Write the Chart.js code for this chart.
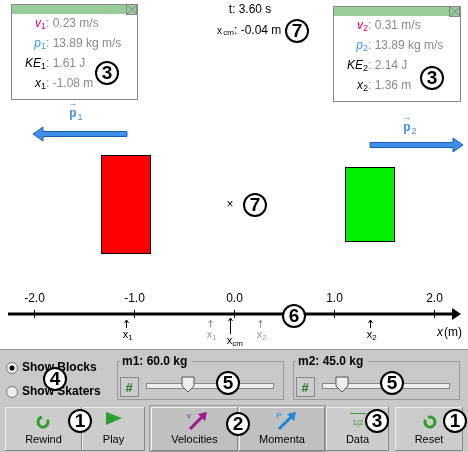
<!DOCTYPE html>
<html><head><meta charset="utf-8">
<script src="https://cdn.jsdelivr.net/npm/chart.js@4"></script>
<style>html,body{margin:0;padding:0;background:#fff}canvas{display:block}</style>
</head><body>
<canvas id="c" width="468" height="452"></canvas>
<script>
const tickLabels = ['-2.0','-1.0','0.0','1.0','2.0'];
const tickValues = [-2, -1, 0, 1, 2];
const blockPositions = [-1.08, 1.36];
const blockHalfWidths = [0.25, 0.25];
const blockTops = [155, 167];
const blockBottoms = [254, 242];
const blockColors = ['#ff0000', '#00ee00'];
const momentumArrowFrom = [-1.07, 1.36];
const momentumArrowTo = [-2.01, 2.29];
const ghostPositions = [-0.24, 0.26];
const xcm = -0.04;

const F = '"Liberation Sans", Arial, sans-serif';
function circ(ctx, x, y, t){
  ctx.save();ctx.beginPath();ctx.arc(x,y,11,0,Math.PI*2);ctx.fillStyle='#fff';ctx.fill();
  ctx.lineWidth=2;ctx.strokeStyle='#000';ctx.stroke();
  ctx.fillStyle='#000';ctx.font='bold 19px '+F;ctx.textAlign='center';ctx.textBaseline='middle';
  ctx.fillText(t,x,y+1);ctx.restore();
}
function arrowH(ctx,x1,x2,y,w,col){
  const d=Math.sign(x2-x1);ctx.fillStyle=col;ctx.strokeStyle='#1a5fb0';ctx.lineWidth=1;
  ctx.beginPath();ctx.moveTo(x1,y-w/2);ctx.lineTo(x2-d*10,y-w/2);ctx.lineTo(x2-d*10,y-7);ctx.lineTo(x2,y);
  ctx.lineTo(x2-d*10,y+7);ctx.lineTo(x2-d*10,y+w/2);ctx.lineTo(x1,y+w/2);ctx.closePath();ctx.fill();ctx.stroke();
}
function dataBox(ctx,x,y,w,h,rows){
  ctx.fillStyle='#fff';ctx.fillRect(x,y,w,h);ctx.fillStyle='#99cc99';ctx.fillRect(x,y,w,10);
  ctx.strokeStyle='#888';ctx.lineWidth=1;ctx.strokeRect(x+.5,y+.5,w,h);
  ctx.strokeRect(x+w-10.5,y+.5,10,10);
  ctx.beginPath();ctx.moveTo(x+w-10,y+1);ctx.lineTo(x+w,y+10);ctx.moveTo(x+w,y+1);ctx.lineTo(x+w-10,y+10);ctx.stroke();
  ctx.font='italic 12px '+F;ctx.textBaseline='middle';
  rows.forEach((r,i)=>{const yy=y+20+i*20;
    ctx.textAlign='right';ctx.fillStyle=r[1];ctx.fillText(r[0],x+30,yy);
    ctx.font='9px '+F;ctx.textAlign='left';ctx.fillText(r[2],x+30,yy+3);
    ctx.font='12px '+F;ctx.fillStyle='#888';ctx.fillText(': '+r[3],x+35,yy);ctx.font='italic 12px '+F;});
}
function button(ctx,x,y,w,h,label,pressed){
  ctx.fillStyle=pressed?'#c0c0c0':'#cccccc';ctx.fillRect(x,y,w,h);
  ctx.strokeStyle='#eee';ctx.beginPath();ctx.moveTo(x+.5,y+h);ctx.lineTo(x+.5,y+.5);ctx.lineTo(x+w,y+.5);ctx.stroke();
  ctx.strokeStyle='#888';ctx.beginPath();ctx.moveTo(x+w-.5,y);ctx.lineTo(x+w-.5,y+h-.5);ctx.lineTo(x,y+h-.5);ctx.stroke();
  ctx.fillStyle='#000';ctx.font='11px '+F;ctx.textAlign='center';ctx.textBaseline='middle';ctx.fillText(label,x+w/2,y+h-11);
}
const sim = {id:'sim', afterDraw(chart){
  const ctx=chart.ctx, X=v=>chart.scales.x.getPixelForValue(v);
  ctx.save();
  dataBox(ctx,11,4,126,95,[['v','#e0007a','1','0.23 m/s'],['p','#3399ff','1','13.89 kg m/s'],['KE','#000','1','1.61 J'],['x','#000','1','-1.08 m']]);
  dataBox(ctx,333,6,127,95,[['v','#e0007a','2','0.31 m/s'],['p','#3399ff','2','13.89 kg m/s'],['KE','#000','2','2.14 J'],['x','#000','2','1.36 m']]);
  circ(ctx,107,73,'3');circ(ctx,432,78,'3');
  ctx.fillStyle='#000';ctx.textAlign='center';ctx.textBaseline='middle';ctx.font='12px '+F;
  ctx.fillText('t: 3.60 s',250,10);
  ctx.textAlign='right';ctx.font='10px '+F;ctx.fillText('x',222,31);ctx.font='8px '+F;ctx.fillText('cm',234,33);
  ctx.font='12px '+F;ctx.textAlign='left';ctx.fillText(': -0.04 m',234,31);
  circ(ctx,297,31,'7');
  // momentum arrows
  for(let i=0;i<2;i++){arrowH(ctx,X(momentumArrowFrom[i]),X(momentumArrowTo[i]),[134,145][i],5,'#3d8fe8');}
  ctx.fillStyle='#3d8fe8';ctx.font='bold 12px '+F;ctx.textAlign='center';
  ctx.fillText('p',73,114);ctx.font='9px '+F;ctx.fillText('1',80,118);ctx.fillText('→',73,104);
  ctx.font='bold 12px '+F;ctx.fillText('p',407,128);ctx.font='9px '+F;ctx.fillText('2',414,132);ctx.fillText('→',407,118);
  // blocks
  for(let i=0;i<2;i++){const l=X(blockPositions[i]-blockHalfWidths[i]),r=X(blockPositions[i]+blockHalfWidths[i]);
    ctx.fillStyle=blockColors[i];ctx.fillRect(l,blockTops[i],r-l,blockBottoms[i]-blockTops[i]);
    ctx.strokeStyle='#000';ctx.lineWidth=1;ctx.strokeRect(l+.5,blockTops[i]+.5,r-l-1,blockBottoms[i]-blockTops[i]-1);}
  ctx.fillStyle='#000';ctx.font='12px '+F;ctx.fillText('×',X(xcm),205);
  circ(ctx,255,205,'7');
  // axis
  ctx.strokeStyle='#000';ctx.lineWidth=3;ctx.beginPath();ctx.moveTo(8,314);ctx.lineTo(454,314);ctx.stroke();
  ctx.fillStyle='#000';ctx.beginPath();ctx.moveTo(461,314);ctx.lineTo(452,308);ctx.lineTo(452,320);ctx.closePath();ctx.fill();
  ctx.lineWidth=1;ctx.font='12px '+F;ctx.textAlign='center';
  tickValues.forEach((v,i)=>{const px=Math.round(X(v))+.5;ctx.beginPath();ctx.moveTo(px,310);ctx.lineTo(px,318);ctx.stroke();ctx.fillText(tickLabels[i],px,299);});
  circ(ctx,294,316,'6');
  function marker(v,lab,sub,col,top,len){const px=Math.round(X(v))+.5;ctx.strokeStyle=col;ctx.fillStyle=col;
    ctx.beginPath();ctx.moveTo(px,top+len);ctx.lineTo(px,top);ctx.moveTo(px-2,top+3);ctx.lineTo(px,top);ctx.lineTo(px+2,top+3);ctx.stroke();
    ctx.font='11px '+F;ctx.textAlign='center';ctx.fillText(lab,px-1,top+len+7);ctx.font='8px '+F;ctx.fillText(sub,px+(sub==='cm'?7:4),top+len+10);}
  marker(blockPositions[0],'x','1','#000',320,8);marker(blockPositions[1],'x','2','#000',320,8);
  marker(ghostPositions[0],'x','1','#999',320,8);marker(ghostPositions[1],'x','2','#999',320,8);
  marker(xcm,'x','cm','#000',318,16);
  ctx.fillStyle='#000';ctx.font='italic 12px '+F;ctx.textAlign='left';ctx.fillText('x',437,333);ctx.font='12px '+F;ctx.fillText('(m)',444,333);
  // panel
  ctx.fillStyle='#c8c8c8';ctx.fillRect(0,349,468,103);ctx.strokeStyle='#999';ctx.beginPath();ctx.moveTo(0,349.5);ctx.lineTo(468,349.5);ctx.stroke();
  [[12,368,true,'Show Blocks'],[12,392,false,'Show Skaters']].forEach(r=>{ctx.beginPath();ctx.arc(r[0],r[1],5.5,0,7);ctx.fillStyle='#eee';ctx.fill();ctx.strokeStyle='#777';ctx.stroke();
    if(r[2]){ctx.beginPath();ctx.arc(r[0],r[1],2.5,0,7);ctx.fillStyle='#000';ctx.fill();}
    ctx.fillStyle='#000';ctx.font='bold 12px '+F;ctx.textAlign='left';ctx.fillText(r[3],22,r[1]);});
  circ(ctx,55,379,'4');
  [[117,'m1: 60.0 kg',188,228],[293,'m2: 45.0 kg',342,392]].forEach(g=>{const x=g[0];
    ctx.strokeStyle='#999';ctx.strokeRect(x+.5,361.5,166,38);ctx.fillStyle='#c8c8c8';ctx.fillRect(x+3,355,72,12);
    ctx.fillStyle='#000';ctx.font='bold 12px '+F;ctx.textAlign='left';ctx.fillText(g[1],x+5,362);
    ctx.fillStyle='#ccc';ctx.fillRect(x+3,377,18,19);ctx.strokeStyle='#888';ctx.strokeRect(x+3.5,377.5,18,19);
    ctx.fillStyle='#2a7a2a';ctx.font='bold 13px '+F;ctx.textAlign='center';ctx.fillText('#',x+12,388);
    ctx.fillStyle='#eee';ctx.fillRect(x+29,383,127,5);ctx.strokeStyle='#888';ctx.strokeRect(x+29.5,383.5,127,5);
    const t=g[2];ctx.fillStyle='#eee';ctx.beginPath();ctx.moveTo(t-6,377);ctx.lineTo(t+6,377);ctx.lineTo(t+6,386);ctx.lineTo(t,392);ctx.lineTo(t-6,386);ctx.closePath();ctx.fill();ctx.strokeStyle='#555';ctx.stroke();
    circ(ctx,g[3],383,'5');});
  button(ctx,5,407,77,44,'Rewind');button(ctx,82,407,63,44,'Play');
  ctx.strokeStyle='#999';ctx.strokeRect(149.5,405.5,176,46);
  button(ctx,151,407,87,44,'Velocities',true);button(ctx,239,407,86,44,'Momenta',true);
  button(ctx,326,407,63,44,'Data');button(ctx,395,407,68,44,'Reset');
  ctx.fillStyle='#2e9e2e';ctx.beginPath();ctx.moveTo(106,408+4);ctx.lineTo(122,408+10);ctx.lineTo(106,408+17);ctx.closePath();ctx.fill();
  ctx.lineWidth=3;ctx.strokeStyle='#2e9e2e';ctx.beginPath();ctx.arc(43,422,5,-0.5,4.5);ctx.stroke();ctx.beginPath();ctx.arc(430,422,5,-2,3.6);ctx.stroke();
  ctx.strokeStyle='#a0188f';ctx.beginPath();ctx.moveTo(190,429);ctx.lineTo(203,416);ctx.stroke();ctx.fillStyle='#a0188f';ctx.beginPath();ctx.moveTo(207,412);ctx.lineTo(198,414);ctx.lineTo(205,421);ctx.fill();
  ctx.strokeStyle='#1e88d8';ctx.beginPath();ctx.moveTo(279,429);ctx.lineTo(292,416);ctx.stroke();ctx.fillStyle='#1e88d8';ctx.beginPath();ctx.moveTo(296,412);ctx.lineTo(287,414);ctx.lineTo(294,421);ctx.fill();
  ctx.font='8px '+F;ctx.fillStyle='#a0188f';ctx.fillText('v',189,416);ctx.fillStyle='#1e88d8';ctx.fillText('P',279,416);
  ctx.fillStyle='#2e9e2e';ctx.fillText('1|2',358,423);ctx.fillRect(350,413,16,1);
  ctx.lineWidth=1;
  circ(ctx,80,421,'1');circ(ctx,238,424,'2');circ(ctx,377,421,'3');circ(ctx,455,421,'1');
  ctx.restore();
}};
new Chart(document.getElementById('c'),{type:'scatter',
  data:{datasets:[{data:blockPositions.map(v=>({x:v,y:-10})),pointRadius:0}]},
  options:{responsive:false,devicePixelRatio:1,animation:false,layout:{padding:0},
    plugins:{legend:{display:false},tooltip:{enabled:false}},
    scales:{x:{type:'linear',min:-2.34,max:2.34,display:false},y:{min:0,max:452,reverse:true,display:false}}},
  plugins:[sim]});
</script></body></html>
